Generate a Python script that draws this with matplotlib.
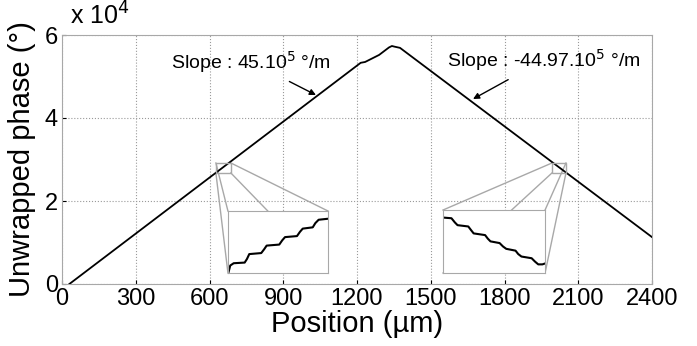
import matplotlib
matplotlib.use("Agg")
import matplotlib.pyplot as plt
from matplotlib.patches import Rectangle
from matplotlib.ticker import FuncFormatter

plt.rcParams["font.family"] = ["Liberation Sans", "DejaVu Sans"]

# main trace: position (um) vs unwrapped phase (deg)
pos = [30, 1215, 1233, 1290, 1330, 1342, 1352, 1375, 2400]
phase = [0, 53300, 53500, 55200, 57000, 57350, 57200, 56900, 11300]

# left zoom (rising side)
zl_x = [626.4, 627.4, 629.5, 636.2, 637.6, 639.0, 646.3, 648.1, 649.6, 657.3,
        659.1, 660.8, 668.1, 669.9, 671.6, 677.7, 679.3, 681.3, 686.4]
zl_y = [26790, 27040, 27130, 27155, 27295, 27485, 27525, 27675, 27815, 27855,
        28020, 28145, 28185, 28350, 28475, 28525, 28690, 28820, 28855]
zl_box = (626, 687, 26750, 29160)

# right zoom (falling side)
zr_x = [1993.2, 1997.7, 1999.6, 2001.1, 2007.1, 2008.6, 2010.1, 2016.5, 2018.0,
        2019.5, 2024.6, 2026.5, 2028.3, 2033.5, 2035.0, 2036.8, 2042.5, 2044.4,
        2046.2, 2048.5, 2049.6]
zr_y = [28870, 28845, 28685, 28580, 28530, 28395, 28265, 28200, 28065, 27960,
        27895, 27765, 27675, 27605, 27475, 27380, 27315, 27185, 27080, 27080, 27105]
zr_box = (1993, 2050, 26750, 29160)

xticks = [0, 300, 600, 900, 1200, 1500, 1800, 2100, 2400]
yticks = [0, 20000, 40000, 60000]

BOX = "#a8a8a8"
GRID = "#9a9a9a"

fig = plt.figure(figsize=(6.97, 3.46), dpi=100)
ax = fig.add_axes([62 / 697, 62 / 346, 590 / 697, 249 / 346])
ax.plot(pos, phase, color="black", lw=1.3, zorder=3)
ax.set_xlim(0, 2400)
ax.set_ylim(0, 60000)
ax.set_xticks(xticks)
ax.set_yticks(yticks)
ax.yaxis.set_major_formatter(FuncFormatter(lambda v, p: "%d" % round(v / 1e4)))
ax.grid(True, color=GRID, ls=":", lw=0.8)
ax.tick_params(direction="in", length=3, labelsize=17, colors="black")
ax.tick_params(axis="x", pad=3)
ax.tick_params(axis="y", pad=3)
for s in ax.spines.values():
    s.set_color(BOX)
ax.set_xlabel("Position (µm)", fontsize=21, labelpad=0)
ax.set_ylabel("Unwrapped phase (°)", fontsize=21, labelpad=6)
fig.text(70 / 697, 1 - 16 / 346, "x 10$^4$", fontsize=18, va="center", ha="left")

ax.annotate("Slope : 45.10$^5$ °/m", xy=(1033, 45540), xytext=(769, 53500),
            fontsize=14, ha="center", va="center",
            arrowprops=dict(arrowstyle="-|>", color="black", lw=1.0,
                            mutation_scale=9, shrinkA=6, shrinkB=0))
ax.annotate("Slope : -44.97.10$^5$ °/m", xy=(1672, 44580), xytext=(1961, 54000),
            fontsize=14, ha="center", va="center",
            arrowprops=dict(arrowstyle="-|>", color="black", lw=1.0,
                            mutation_scale=9, shrinkA=6, shrinkB=0))

def zoom_inset(box, big, xs, ys):
    x0, x1, y0, y1 = box
    bx0, bx1, by0, by1 = big
    ax.add_patch(Rectangle((x0, y0), x1 - x0, y1 - y0, fill=False,
                           ec=BOX, lw=1.0, zorder=4))
    for (sx, sy), (tx, ty) in [((x0, y1), (bx0, by1)), ((x1, y1), (bx1, by1)),
                               ((x0, y0), (bx0, by0)), ((x1, y0), (bx1, by0))]:
        ax.plot([sx, tx], [sy, ty], color=BOX, lw=1.0, zorder=2)
    ins = ax.inset_axes([bx0, by0, bx1 - bx0, by1 - by0], transform=ax.transData)
    ins.plot(xs, ys, color="black", lw=1.5)
    ins.set_xlim(x0, x1)
    ins.set_ylim(y0, y1)
    ins.set_xticks([])
    ins.set_yticks([])
    for s in ins.spines.values():
        s.set_color(BOX)
    return ins

zoom_inset(zl_box, (675, 1082, 2650, 17590), zl_x, zl_y)
zoom_inset(zr_box, (1550, 1965, 2650, 17830), zr_x, zr_y)

fig.savefig("out.png", dpi=100)
